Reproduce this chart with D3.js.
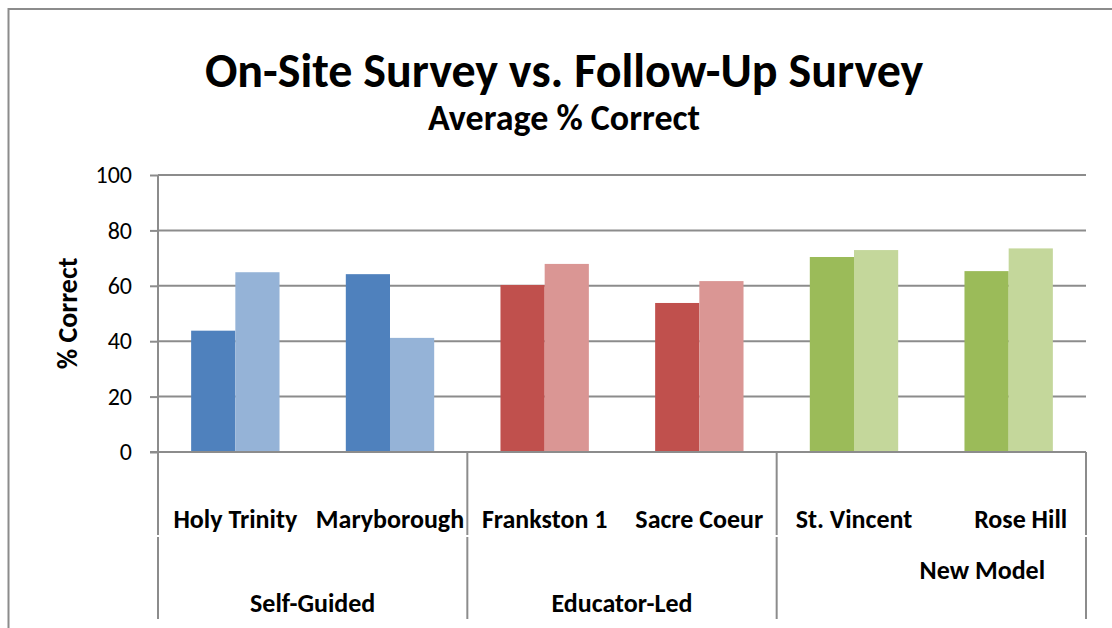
<!DOCTYPE html>
<html>
<head>
<meta charset="utf-8">
<script src="https://cdn.jsdelivr.net/npm/d3@7"></script>
<style>
  body { margin: 0; background: #fff; }
  text { font-family: Carlito, Lato, "Liberation Sans", sans-serif; fill: #000; }
</style>
</head>
<body>
<div id="chart"></div>
<script>
  // values
  var schools = ["Holy Trinity", "Maryborough", "Frankston 1", "Sacre Coeur", "St. Vincent", "Rose Hill"];
  var groups = ["Self-Guided", "Educator-Led", "New Model"];
  var schoolGroup = [0, 0, 1, 1, 2, 2];
  var onSite = [43.8, 64.2, 60.3, 53.8, 70.4, 65.3];
  var followUp = [64.9, 41.2, 67.9, 61.7, 72.9, 73.5];
  var yTicks = [0, 20, 40, 60, 80, 100];

  var darkColors = ["#4f81bd", "#c0504d", "#9bbb59"];
  var lightColors = ["#95b3d7", "#da9694", "#c4d79b"];

  var width = 1112, height = 628;
  var plotLeft = 158, plotRight = 1086, plotTop = 175, plotBottom = 452;
  var grey = "#8c8c8c";
  var labelSize = "26px";

  var svg = d3.select("#chart")
              .append("svg")
              .attr("width", width)
              .attr("height", height);

  // chart border (runs past the right and bottom edges)
  svg.append("rect")
     .attr("x", 8.5).attr("y", 9)
     .attr("width", 1200).attr("height", 700)
     .attr("fill", "none")
     .attr("stroke", grey)
     .attr("stroke-width", 2);

  svg.append("text")
     .attr("x", 564).attr("y", 87)
     .attr("text-anchor", "middle")
     .style("font-size", "48px")
     .style("font-weight", "bold")
     .text("On-Site Survey vs. Follow-Up Survey");

  svg.append("text")
     .attr("x", 564).attr("y", 130)
     .attr("text-anchor", "middle")
     .style("font-size", "36px")
     .style("font-weight", "bold")
     .text("Average % Correct");

  var x = d3.scaleBand().domain(schools).range([plotLeft, plotRight]);
  var xSub = d3.scaleBand().domain(["on", "follow"])
               .range([0, x.bandwidth()])
               .paddingInner(0).paddingOuter(0.75);
  var y = d3.scaleLinear().domain([0, 100]).range([plotBottom, plotTop]);

  // gridlines
  svg.append("g")
     .selectAll("line")
     .data(yTicks.filter(function(d) { return d > 0; }))
     .enter()
     .append("line")
     .attr("x1", plotLeft).attr("x2", plotRight)
     .attr("y1", function(d) { return y(d); })
     .attr("y2", function(d) { return y(d); })
     .attr("stroke", grey)
     .attr("stroke-width", 2);

  // bars
  var rows = schools.map(function(s, i) {
    return {school: s, group: schoolGroup[i], on: onSite[i], follow: followUp[i]};
  });

  var cat = svg.selectAll(".cat")
               .data(rows)
               .enter()
               .append("g")
               .attr("class", "cat")
               .attr("transform", function(d) { return "translate(" + x(d.school) + ",0)"; });

  cat.append("rect")
     .attr("x", xSub("on"))
     .attr("width", xSub.bandwidth())
     .attr("y", function(d) { return y(d.on); })
     .attr("height", function(d) { return y(0) - y(d.on); })
     .attr("fill", function(d) { return darkColors[d.group]; });

  cat.append("rect")
     .attr("x", xSub("follow"))
     .attr("width", xSub.bandwidth())
     .attr("y", function(d) { return y(d.follow); })
     .attr("height", function(d) { return y(0) - y(d.follow); })
     .attr("fill", function(d) { return lightColors[d.group]; });

  // y axis
  var yAxis = svg.append("g")
                 .attr("transform", "translate(" + plotLeft + ",0)")
                 .call(d3.axisLeft(y).tickValues(yTicks).tickSize(8).tickPadding(18));
  yAxis.select(".domain").remove();
  yAxis.selectAll(".tick line").attr("stroke", grey).attr("stroke-width", 2);
  yAxis.selectAll(".tick text")
       .style("font-family", "Carlito, Lato, sans-serif")
       .style("font-size", "24px")
       .attr("fill", "#000");

  svg.append("text")
     .attr("transform", "translate(77," + (plotTop + plotBottom) / 2 + ") rotate(-90)")
     .attr("text-anchor", "middle")
     .style("font-size", "28px")
     .style("font-weight", "bold")
     .text("% Correct");

  // zero line
  svg.append("line")
     .attr("x1", plotLeft - 8).attr("x2", plotRight)
     .attr("y1", y(0)).attr("y2", y(0))
     .attr("stroke", grey).attr("stroke-width", 2);

  // left axis line
  svg.append("line")
     .attr("x1", plotLeft).attr("x2", plotLeft)
     .attr("y1", plotTop).attr("y2", plotBottom)
     .attr("stroke", grey).attr("stroke-width", 2);

  // group dividers in the category area
  var dividers = [0, 2, 4, 6].map(function(i) {
    return i < schools.length ? x(schools[i]) : plotRight;
  });
  [[plotBottom, 535], [537, 619]].forEach(function(seg) {
    svg.append("g")
       .selectAll("line")
       .data(dividers)
       .enter()
       .append("line")
       .attr("x1", function(d) { return d; })
       .attr("x2", function(d) { return d; })
       .attr("y1", seg[0]).attr("y2", seg[1])
       .attr("stroke", grey).attr("stroke-width", 2);
  });

  // school labels (Rose Hill sits a little right in the original)
  var schoolShift = [0, 0, 0, 0, 0, 12];
  svg.append("g")
     .selectAll("text")
     .data(schools)
     .enter()
     .append("text")
     .attr("x", function(d, i) { return x(d) + x.bandwidth() / 2 + schoolShift[i]; })
     .attr("y", 528)
     .attr("text-anchor", "middle")
     .style("font-size", labelSize)
     .style("font-weight", "bold")
     .text(function(d) { return d; });

  // group labels
  var groupShift = [0, 0, 51];
  var groupY = [612, 612, 579];
  svg.append("g")
     .selectAll("text")
     .data(groups)
     .enter()
     .append("text")
     .attr("x", function(d, i) { return (dividers[i] + dividers[i + 1]) / 2 + groupShift[i]; })
     .attr("y", function(d, i) { return groupY[i]; })
     .attr("text-anchor", "middle")
     .style("font-size", labelSize)
     .style("font-weight", "bold")
     .text(function(d) { return d; });
</script>
</body>
</html>
